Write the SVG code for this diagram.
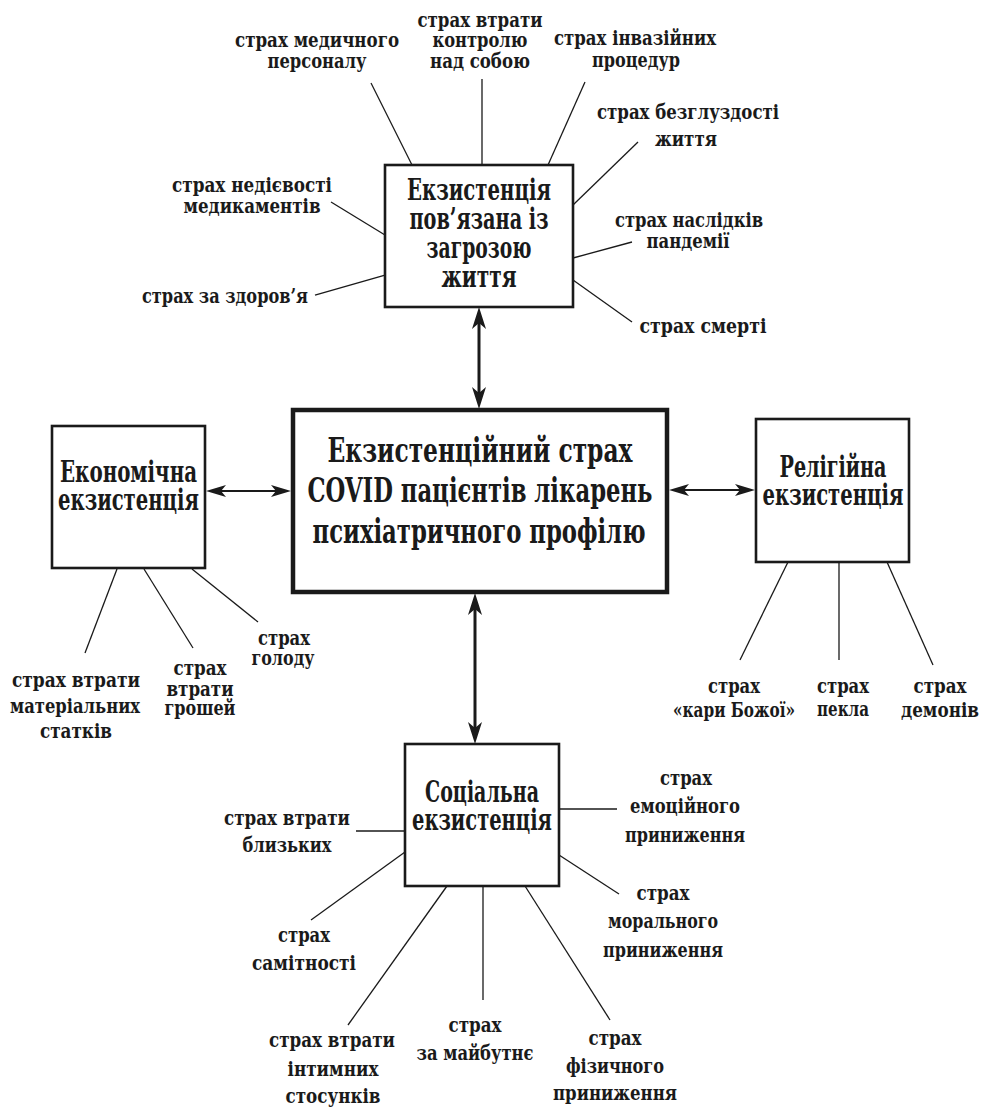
<svg xmlns="http://www.w3.org/2000/svg" width="983" height="1110" viewBox="0 0 983 1110">
  <style>
    text { font-family: "DejaVu Serif", "Liberation Serif", serif; font-weight: bold; font-stretch: condensed; fill: #1a1a1a; text-anchor: middle; }
    .lbl { font-size: 21px; }
    .ttl { font-size: 29px; }
    .main { font-size: 33px; }
    .box { fill: #fff; stroke: #1a1a1a; stroke-width: 2.6; }
    .mainbox { fill: #fff; stroke: #1a1a1a; stroke-width: 4.5; }
    .spoke { stroke: #1a1a1a; stroke-width: 1.3; fill: none; }
    .thick { stroke: #1a1a1a; stroke-width: 3; fill: none; marker-start: url(#headL); marker-end: url(#headL); }
    .thin { stroke: #1a1a1a; stroke-width: 2; fill: none; marker-start: url(#headS); marker-end: url(#headS); }
  </style>
  <defs>
    <marker id="headL" viewBox="0 0 22 14" markerWidth="22" markerHeight="14" refX="11" refY="7" orient="auto-start-reverse" markerUnits="userSpaceOnUse">
      <path d="M0,0 L22,7 L0,14 L6,7 z" fill="#1a1a1a"/>
    </marker>
    <marker id="headS" viewBox="0 0 20 12" markerWidth="20" markerHeight="12" refX="10" refY="6" orient="auto-start-reverse" markerUnits="userSpaceOnUse">
      <path d="M0,0 L20,6 L0,12 L5,6 z" fill="#1a1a1a"/>
    </marker>
  </defs>

  <!-- connectors -->
  <g id="connectors">
    <!-- arrows between the central block and the four domains -->
    <line class="thick" x1="479" y1="318" x2="479" y2="398"/>
    <line class="thick" x1="475" y1="604" x2="475" y2="733"/>
    <line class="thin" x1="216" y1="491" x2="281" y2="491"/>
    <line class="thin" x1="679" y1="490" x2="745" y2="490"/>
    <!-- life-threat spokes -->
    <line class="spoke" x1="371" y1="83" x2="412" y2="165"/>
    <line class="spoke" x1="482" y1="79" x2="482" y2="165"/>
    <line class="spoke" x1="585" y1="82" x2="548" y2="165"/>
    <line class="spoke" x1="638" y1="142" x2="573" y2="205"/>
    <line class="spoke" x1="632" y1="242" x2="573" y2="258"/>
    <line class="spoke" x1="573" y1="280" x2="632" y2="322"/>
    <line class="spoke" x1="331" y1="202" x2="385" y2="235"/>
    <line class="spoke" x1="315" y1="295" x2="385" y2="275"/>
    <!-- economic spokes -->
    <line class="spoke" x1="117" y1="569" x2="85" y2="653"/>
    <line class="spoke" x1="144" y1="569" x2="193" y2="648"/>
    <line class="spoke" x1="192" y1="569" x2="258" y2="622"/>
    <!-- religious spokes -->
    <line class="spoke" x1="788" y1="562" x2="740" y2="660"/>
    <line class="spoke" x1="839" y1="562" x2="839" y2="660"/>
    <line class="spoke" x1="887" y1="562" x2="933" y2="665"/>
    <!-- social spokes -->
    <line class="spoke" x1="356" y1="831" x2="405" y2="831"/>
    <line class="spoke" x1="311" y1="920" x2="405" y2="852"/>
    <line class="spoke" x1="348" y1="1025" x2="447" y2="886"/>
    <line class="spoke" x1="483" y1="886" x2="483" y2="1000"/>
    <line class="spoke" x1="525" y1="886" x2="610" y2="1020"/>
    <line class="spoke" x1="559" y1="809" x2="617" y2="809"/>
    <line class="spoke" x1="559" y1="855" x2="619" y2="894"/>
  </g>

  <!-- central block -->
  <g id="node-main">
    <rect class="mainbox" x="293" y="410" width="374" height="182"/>
    <text class="main" x="480" y="462" textLength="305" lengthAdjust="spacingAndGlyphs">Екзистенційний страх</text>
    <text class="main" x="480" y="502" textLength="345" lengthAdjust="spacingAndGlyphs">COVID пацієнтів лікарень</text>
    <text class="main" x="479" y="543" textLength="333" lengthAdjust="spacingAndGlyphs">психіатричного профілю</text>
  </g>

  <!-- life-threat domain -->
  <g id="node-life">
    <rect class="box" x="385" y="165" width="188" height="142"/>
    <text class="ttl" x="479" y="200" textLength="144" lengthAdjust="spacingAndGlyphs">Екзистенція</text>
    <text class="ttl" x="479" y="229" textLength="139" lengthAdjust="spacingAndGlyphs">пов’язана із</text>
    <text class="ttl" x="479" y="258" textLength="105" lengthAdjust="spacingAndGlyphs">загрозою</text>
    <text class="ttl" x="479" y="287" textLength="75" lengthAdjust="spacingAndGlyphs">життя</text>
  </g>
  <g id="fear-staff">
    <text class="lbl" x="317" y="47" textLength="164" lengthAdjust="spacingAndGlyphs">страх медичного</text>
    <text class="lbl" x="317" y="68" textLength="99" lengthAdjust="spacingAndGlyphs">персоналу</text>
  </g>
  <g id="fear-control">
    <text class="lbl" x="480" y="27" textLength="125" lengthAdjust="spacingAndGlyphs">страх втрати</text>
    <text class="lbl" x="480" y="47" textLength="95" lengthAdjust="spacingAndGlyphs">контролю</text>
    <text class="lbl" x="480" y="68" textLength="100" lengthAdjust="spacingAndGlyphs">над собою</text>
  </g>
  <g id="fear-procedures">
    <text class="lbl" x="635" y="45" textLength="162" lengthAdjust="spacingAndGlyphs">страх інвазійних</text>
    <text class="lbl" x="636" y="67" textLength="88" lengthAdjust="spacingAndGlyphs">процедур</text>
  </g>
  <g id="fear-meaning">
    <text class="lbl" x="688" y="119" textLength="182" lengthAdjust="spacingAndGlyphs">страх безглуздості</text>
    <text class="lbl" x="686" y="146" textLength="62" lengthAdjust="spacingAndGlyphs">життя</text>
  </g>
  <g id="fear-pandemic">
    <text class="lbl" x="689" y="227" textLength="148" lengthAdjust="spacingAndGlyphs">страх наслідків</text>
    <text class="lbl" x="688" y="248" textLength="83" lengthAdjust="spacingAndGlyphs">пандемії</text>
  </g>
  <g id="fear-death">
    <text class="lbl" x="703" y="333" textLength="127" lengthAdjust="spacingAndGlyphs">страх смерті</text>
  </g>
  <g id="fear-drugs">
    <text class="lbl" x="252" y="192" textLength="160" lengthAdjust="spacingAndGlyphs">страх недієвості</text>
    <text class="lbl" x="252" y="213" textLength="137" lengthAdjust="spacingAndGlyphs">медикаментів</text>
  </g>
  <g id="fear-health">
    <text class="lbl" x="225" y="303" textLength="166" lengthAdjust="spacingAndGlyphs">страх за здоров’я</text>
  </g>

  <!-- economic domain -->
  <g id="node-economic">
    <rect class="box" x="52" y="426" width="153" height="142"/>
    <text class="ttl" x="128.5" y="482" textLength="137" lengthAdjust="spacingAndGlyphs">Економічна</text>
    <text class="ttl" x="128.5" y="510" textLength="141" lengthAdjust="spacingAndGlyphs">екзистенція</text>
  </g>
  <g id="fear-property">
    <text class="lbl" x="76" y="687" textLength="128" lengthAdjust="spacingAndGlyphs">страх втрати</text>
    <text class="lbl" x="75" y="713" textLength="130" lengthAdjust="spacingAndGlyphs">матеріальних</text>
    <text class="lbl" x="76" y="738" textLength="72" lengthAdjust="spacingAndGlyphs">статків</text>
  </g>
  <g id="fear-money">
    <text class="lbl" x="200" y="675" textLength="53" lengthAdjust="spacingAndGlyphs">страх</text>
    <text class="lbl" x="200" y="696" textLength="67" lengthAdjust="spacingAndGlyphs">втрати</text>
    <text class="lbl" x="200" y="715" textLength="71" lengthAdjust="spacingAndGlyphs">грошей</text>
  </g>
  <g id="fear-hunger">
    <text class="lbl" x="284" y="645" textLength="52" lengthAdjust="spacingAndGlyphs">страх</text>
    <text class="lbl" x="283" y="665" textLength="63" lengthAdjust="spacingAndGlyphs">голоду</text>
  </g>

  <!-- religious domain -->
  <g id="node-religious">
    <rect class="box" x="756" y="419" width="153" height="143"/>
    <text class="ttl" x="833" y="477" textLength="107" lengthAdjust="spacingAndGlyphs">Релігійна</text>
    <text class="ttl" x="833" y="505" textLength="141" lengthAdjust="spacingAndGlyphs">екзистенція</text>
  </g>
  <g id="fear-punishment">
    <text class="lbl" x="734" y="693" textLength="52" lengthAdjust="spacingAndGlyphs">страх</text>
    <text class="lbl" x="734" y="717" textLength="122" lengthAdjust="spacingAndGlyphs">«кари Божої»</text>
  </g>
  <g id="fear-hell">
    <text class="lbl" x="843" y="693" textLength="52" lengthAdjust="spacingAndGlyphs">страх</text>
    <text class="lbl" x="843" y="716" textLength="52" lengthAdjust="spacingAndGlyphs">пекла</text>
  </g>
  <g id="fear-demons">
    <text class="lbl" x="940" y="693" textLength="53" lengthAdjust="spacingAndGlyphs">страх</text>
    <text class="lbl" x="940" y="717" textLength="78" lengthAdjust="spacingAndGlyphs">демонів</text>
  </g>

  <!-- social domain -->
  <g id="node-social">
    <rect class="box" x="405" y="744" width="154" height="142"/>
    <text class="ttl" x="482" y="802" textLength="114" lengthAdjust="spacingAndGlyphs">Соціальна</text>
    <text class="ttl" x="482" y="830" textLength="140" lengthAdjust="spacingAndGlyphs">екзистенція</text>
  </g>
  <g id="fear-relatives">
    <text class="lbl" x="287" y="825" textLength="126" lengthAdjust="spacingAndGlyphs">страх втрати</text>
    <text class="lbl" x="287" y="852" textLength="89" lengthAdjust="spacingAndGlyphs">близьких</text>
  </g>
  <g id="fear-loneliness">
    <text class="lbl" x="304" y="942" textLength="52" lengthAdjust="spacingAndGlyphs">страх</text>
    <text class="lbl" x="304" y="970" textLength="104" lengthAdjust="spacingAndGlyphs">самітності</text>
  </g>
  <g id="fear-intimacy">
    <text class="lbl" x="332" y="1047" textLength="126" lengthAdjust="spacingAndGlyphs">страх втрати</text>
    <text class="lbl" x="333" y="1076" textLength="91" lengthAdjust="spacingAndGlyphs">інтимних</text>
    <text class="lbl" x="333" y="1103" textLength="95" lengthAdjust="spacingAndGlyphs">стосунків</text>
  </g>
  <g id="fear-future">
    <text class="lbl" x="475" y="1032" textLength="53" lengthAdjust="spacingAndGlyphs">страх</text>
    <text class="lbl" x="475" y="1060" textLength="117" lengthAdjust="spacingAndGlyphs">за майбутнє</text>
  </g>
  <g id="fear-physical">
    <text class="lbl" x="615" y="1045" textLength="53" lengthAdjust="spacingAndGlyphs">страх</text>
    <text class="lbl" x="615" y="1073" textLength="98" lengthAdjust="spacingAndGlyphs">фізичного</text>
    <text class="lbl" x="615" y="1100" textLength="124" lengthAdjust="spacingAndGlyphs">приниження</text>
  </g>
  <g id="fear-emotional">
    <text class="lbl" x="686" y="785" textLength="52" lengthAdjust="spacingAndGlyphs">страх</text>
    <text class="lbl" x="685" y="813" textLength="110" lengthAdjust="spacingAndGlyphs">емоційного</text>
    <text class="lbl" x="685" y="842" textLength="120" lengthAdjust="spacingAndGlyphs">приниження</text>
  </g>
  <g id="fear-moral">
    <text class="lbl" x="663" y="900" textLength="53" lengthAdjust="spacingAndGlyphs">страх</text>
    <text class="lbl" x="663" y="928" textLength="110" lengthAdjust="spacingAndGlyphs">морального</text>
    <text class="lbl" x="663" y="957" textLength="120" lengthAdjust="spacingAndGlyphs">приниження</text>
  </g>
</svg>
